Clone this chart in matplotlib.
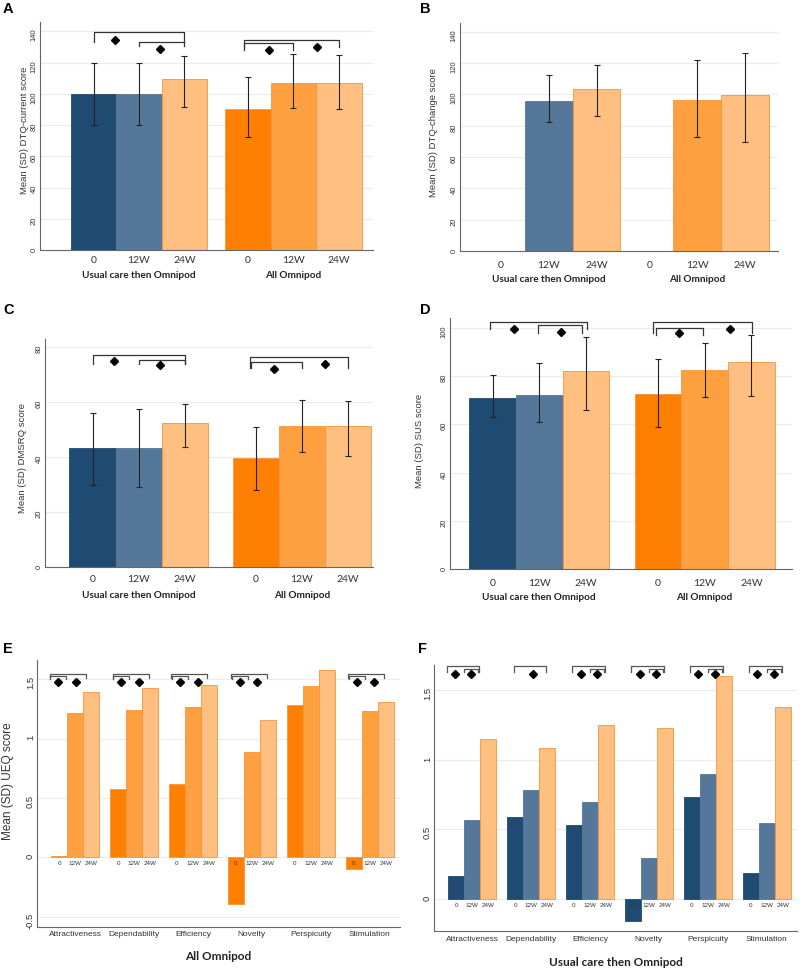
import numpy as np
import matplotlib
matplotlib.use("Agg")
import matplotlib.pyplot as plt
import matplotlib.transforms as mtransforms

# ---------------------------------------------------------------------------
# Data
# ---------------------------------------------------------------------------
time_labels = ["0", "12W", "24W"]
arm_labels = ["Usual care then Omnipod", "All Omnipod"]

# A: DTQ-current score, mean with lower / upper SD limits
dtqc_usual = [100.0, 100.0, 109.5]
dtqc_usual_lo = [80.0, 80.0, 91.5]
dtqc_usual_hi = [120.0, 120.0, 124.0]
dtqc_all = [90.5, 107.0, 107.0]
dtqc_all_lo = [72.5, 91.0, 90.5]
dtqc_all_hi = [111.0, 125.5, 125.0]

# B: DTQ-change score (no baseline value)
dtqch_usual = [np.nan, 95.7, 103.2]
dtqch_usual_lo = [np.nan, 82.5, 86.0]
dtqch_usual_hi = [np.nan, 112.4, 118.5]
dtqch_all = [np.nan, 96.4, 99.4]
dtqch_all_lo = [np.nan, 73.0, 69.7]
dtqch_all_hi = [np.nan, 122.0, 126.2]

# C: DMSRQ score
dmsrq_usual = [43.5, 43.5, 52.6]
dmsrq_usual_lo = [30.0, 29.0, 43.6]
dmsrq_usual_hi = [56.0, 57.5, 59.4]
dmsrq_all = [39.8, 51.2, 51.2]
dmsrq_all_lo = [28.0, 41.8, 40.3]
dmsrq_all_hi = [50.8, 60.9, 60.6]

# D: SUS score
sus_usual = [71.0, 72.1, 82.1]
sus_usual_lo = [63.2, 60.9, 65.9]
sus_usual_hi = [80.4, 85.7, 96.4]
sus_all = [72.8, 82.7, 85.9]
sus_all_lo = [58.8, 71.4, 71.7]
sus_all_hi = [87.1, 93.8, 97.1]

# E / F: UEQ domain scores
ueq_domains = ["Attractiveness", "Dependability", "Efficiency",
               "Novelty", "Perspicuity", "Stimulation"]
ueq_all_0 = [0.01, 0.58, 0.62, -0.39, 1.28, -0.10]
ueq_all_12 = [1.22, 1.24, 1.27, 0.89, 1.44, 1.23]
ueq_all_24 = [1.39, 1.43, 1.45, 1.16, 1.58, 1.31]
ueq_usual_0 = [0.165, 0.59, 0.53, -0.155, 0.73, 0.185]
ueq_usual_12 = [0.565, 0.78, 0.695, 0.295, 0.90, 0.548]
ueq_usual_24 = [1.15, 1.085, 1.25, 1.23, 1.60, 1.38]

# ---------------------------------------------------------------------------
# Styling
# ---------------------------------------------------------------------------
NAVY = "#1f4a72"
SLATE = "#557799"
ORANGE = "#ff8000"
MID = "#ffa040"
LIGHT = "#ffbf80"
EDGE_OR = "#f5943c"
AXIS_C = "#666666"
GRID_C = "#ececec"
TXT_C = "#333333"

SANS = ["Liberation Sans", "DejaVu Sans"]
CAL = ["Lato", "DejaVu Sans"]

W, H = 800, 971
fig = plt.figure(figsize=(W / 100, H / 100), dpi=100)
fig.patch.set_facecolor("white")


def rect(left, top, right, bottom):
    """pixel box -> figure fraction rect"""
    return [left / W, 1 - bottom / H, (right - left) / W, (bottom - top) / H]


def below(ax, x, px, text, **kw):
    tr = mtransforms.offset_copy(ax.get_xaxis_transform(), fig=fig,
                                 y=-px * 0.72, units="points")
    ax.text(x, 0, text, transform=tr, ha="center", va="center",
            clip_on=False, **kw)


def style_axes(ax, ytick_size):
    for s in ("top", "right"):
        ax.spines[s].set_visible(False)
    for s in ("left", "bottom"):
        ax.spines[s].set_color(AXIS_C)
        ax.spines[s].set_linewidth(0.8)
    ax.yaxis.grid(True, color=GRID_C, linewidth=0.8)
    ax.set_axisbelow(True)
    ax.tick_params(axis="y", length=0, pad=1.5, labelsize=ytick_size,
                   labelrotation=90, labelcolor=TXT_C)
    for lbl in ax.get_yticklabels():
        lbl.set_fontfamily(SANS)
    ax.set_xticks([])


def bracket(ax, x0, x1, y, leg, color="#333333"):
    ax.plot([x0, x0, x1, x1], [y - leg, y, y, y - leg], color=color,
            linewidth=0.9, clip_on=False, zorder=4)


def diamond(ax, x, y, size=4.5):
    ax.plot([x], [y], marker="D", color="black", markersize=size,
            linestyle="none", clip_on=False, zorder=5)


def score_panel(box, series, off, xlim, ylim, yticks, sig, tick_px, group_px):
    ax = fig.add_axes(rect(*box))
    cols = [[NAVY, SLATE, LIGHT], [ORANGE, MID, LIGHT]]
    edges = [[NAVY, SLATE, EDGE_OR], [EDGE_OR, EDGE_OR, EDGE_OR]]
    for g, (vals, lo, hi) in enumerate(series):
        vals = np.asarray(vals, float)
        lo = np.asarray(lo, float)
        hi = np.asarray(hi, float)
        xs = np.arange(3) + g * off
        ok = ~np.isnan(vals)
        ax.bar(xs[ok], vals[ok], width=1.0,
               color=[c for c, k in zip(cols[g], ok) if k],
               edgecolor=[c for c, k in zip(edges[g], ok) if k],
               linewidth=0.6, zorder=2)
        ax.errorbar(xs[ok], vals[ok], yerr=[vals[ok] - lo[ok], hi[ok] - vals[ok]],
                    fmt="none", ecolor="#222222", elinewidth=0.8,
                    capsize=2.5, capthick=0.8, zorder=3)
        for x, t in zip(xs, time_labels):
            below(ax, x, tick_px, t, fontsize=7.5, family=CAL, color=TXT_C)
        below(ax, xs[1], group_px, arm_labels[g], fontsize=7.2, family=CAL,
              fontweight="bold", color="#222222")
    ax.set_xlim(*xlim)
    ax.set_ylim(*ylim)
    ax.set_yticks(yticks)
    style_axes(ax, 5.5)
    for g, x0, x1, y, leg in sig.get("lines", []):
        bracket(ax, g * off + x0, g * off + x1, y, leg)
    for g, x, y in sig.get("marks", []):
        diamond(ax, g * off + x, y)
    return ax


# significance brackets: (group, x_start, x_end, y, leg) / (group, x, y)
sig_A = dict(lines=[(0, 0.0, 2.0, 139.8, 6.5), (0, 1.0, 2.0, 133.4, 2.5),
                    (1, -0.08, 2.0, 134.5, 4.5), (1, -0.08, 1.0, 132.5, 4.5)],
             marks=[(0, 0.47, 134.3), (0, 1.47, 129.0),
                    (1, 0.47, 128.0), (1, 1.52, 130.0)])
sig_C = dict(lines=[(0, 0.0, 2.0, 77.0, 3.0), (0, 1.0, 2.0, 75.5, 1.5),
                    (1, -0.12, 2.0, 76.5, 4.0), (1, -0.1, 1.0, 74.5, 2.0)],
             marks=[(0, 0.47, 74.9), (0, 1.47, 73.4),
                    (1, 0.4, 72.2), (1, 1.5, 73.9)])
sig_D = dict(lines=[(0, -0.06, 2.02, 102.4, 2.8), (0, 0.97, 1.91, 101.2, 3.3),
                    (1, -0.11, 2.01, 102.6, 4.7), (1, -0.04, 0.96, 99.9, 2.7)],
             marks=[(0, 0.47, 99.6), (0, 1.47, 98.3),
                    (1, 0.46, 97.9), (1, 1.55, 99.6)])

score_panel((40, 22, 373, 250),
            [(dtqc_usual, dtqc_usual_lo, dtqc_usual_hi),
             (dtqc_all, dtqc_all_lo, dtqc_all_hi)],
            3.4, (-1.18, 6.15), (0, 146), range(0, 141, 20), sig_A, 10, 25)
score_panel((460, 23, 778, 251),
            [(dtqch_usual, dtqch_usual_lo, dtqch_usual_hi),
             (dtqch_all, dtqch_all_lo, dtqch_all_hi)],
            3.11, (-0.86, 5.8), (0, 145.6), range(0, 141, 20), {}, 14, 29)
score_panel((45, 339, 373, 567),
            [(dmsrq_usual, dmsrq_usual_lo, dmsrq_usual_hi),
             (dmsrq_all, dmsrq_all_lo, dmsrq_all_hi)],
            3.53, (-1.03, 6.07), (0, 83), range(0, 81, 20), sig_C, 12, 28)
score_panel((450, 318, 792, 569),
            [(sus_usual, sus_usual_lo, sus_usual_hi),
             (sus_all, sus_all_lo, sus_all_hi)],
            3.54, (-0.91, 6.41), (0, 104.2), range(0, 101, 20), sig_D, 14, 28)


# ---------------------------------------------------------------------------
# UEQ panels
# ---------------------------------------------------------------------------
def ueq_panel(box, v0, v12, v24, cols, ylim, yticks, sig, arm, cat_px, arm_px):
    ax = fig.add_axes(rect(*box))
    step = 3.68
    base = np.arange(len(ueq_domains)) * step
    for k, vals in enumerate([v0, v12, v24]):
        edge = EDGE_OR if cols[k] in (ORANGE, MID, LIGHT) else cols[k]
        ax.bar(base + k, vals, width=1.0, color=cols[k], edgecolor=edge,
               linewidth=0.6, zorder=2)
        for x in base + k:
            tr = mtransforms.offset_copy(ax.transData, fig=fig, y=-6 * 0.72,
                                         units="points")
            ax.text(x, 0, time_labels[k], transform=tr, ha="center",
                    va="center", fontsize=4.5, family=SANS, color=TXT_C,
                    zorder=6)
    ax.set_xlim(-1.39, base[-1] + 2.9)
    ax.set_ylim(*ylim)
    ax.set_yticks(yticks)
    ax.set_yticklabels([f"{t:g}" for t in yticks])
    style_axes(ax, 6.8)
    for name, x in zip(ueq_domains, base + 1):
        below(ax, x, cat_px, name, fontsize=6, family=SANS, color=TXT_C)
    ax.text(0.5, 0, arm, transform=mtransforms.offset_copy(
        ax.transAxes, fig=fig, y=-arm_px * 0.72, units="points"),
        ha="center", va="center", fontsize=8.5, family=CAL,
        fontweight="bold", color="#222222")
    for g, shift in sig["groups"]:
        x = base[g] + shift
        for x0, x1, y, leg in sig["lines"](g):
            bracket(ax, x + x0, x + x1, y, leg, color="#555555")
        for dx, y in sig["marks"](g):
            diamond(ax, x + dx, y, size=4.2)
    return ax


sig_E = dict(
    groups=[(0, -0.25), (1, 0.0), (2, 0.0), (3, 0.05), (5, 0.0)],
    lines=lambda g: [(-0.35, 1.9, 1.545, 0.035), (-0.3, 0.7, 1.525, 0.02)],
    marks=lambda g: [(0.2, 1.478), (1.3, 1.478)],
)
sig_F = dict(
    groups=[(0, -0.5), (1, 0.0), (2, 0.0), (3, 0.0), (4, 0.0), (5, 0.0)],
    lines=lambda g: ([(-0.1, 1.95, 1.672, 0.04)] if g == 1 else
                     [(-0.1, 1.95, 1.672, 0.04), (1.0, 1.87, 1.652, 0.025)]),
    marks=lambda g: ([(1.1, 1.615)] if g == 1 else
                     [(0.42, 1.615), (1.45, 1.615)]),
)

axE = ueq_panel((37, 660, 400, 927), ueq_all_0, ueq_all_12, ueq_all_24,
                [ORANGE, MID, LIGHT], (-0.587, 1.663), [-0.5, 0, 0.5, 1, 1.5],
                sig_E, "All Omnipod", 7.6, 29.6)
axF = ueq_panel((434, 665, 797, 931), ueq_usual_0, ueq_usual_12, ueq_usual_24,
                [NAVY, SLATE, LIGHT], (-0.229, 1.68), [0, 0.5, 1, 1.5],
                sig_F, "Usual care then Omnipod", 8.3, 31)

# ---------------------------------------------------------------------------
# Y labels and panel letters
# ---------------------------------------------------------------------------
ylabels = [("Mean (SD) DTQ-current score", 25, 130, 6.8),
           ("Mean (SD) DTQ-change score", 433, 133, 6.8),
           ("Mean (SD) DMSRQ score", 23, 458, 6.8),
           ("Mean (SD) SUS score", 420, 441, 6.8),
           ("Mean (SD) UEQ score", 8, 781, 8.5)]
for text, px, py, fs in ylabels:
    fig.text(px / W, 1 - py / H, text, rotation=90, ha="center", va="center",
             fontsize=fs, family=SANS, color=TXT_C)

for letter, px, py in [("A", 3, 9), ("B", 420, 9), ("C", 3, 310),
                       ("D", 420, 310), ("E", 3, 649), ("F", 418, 649)]:
    fig.text(px / W, 1 - py / H, letter, ha="left", va="center",
             fontsize=10.5, fontweight="bold", family=SANS, color="black")

fig.savefig("out.png", dpi=100, facecolor="white")
